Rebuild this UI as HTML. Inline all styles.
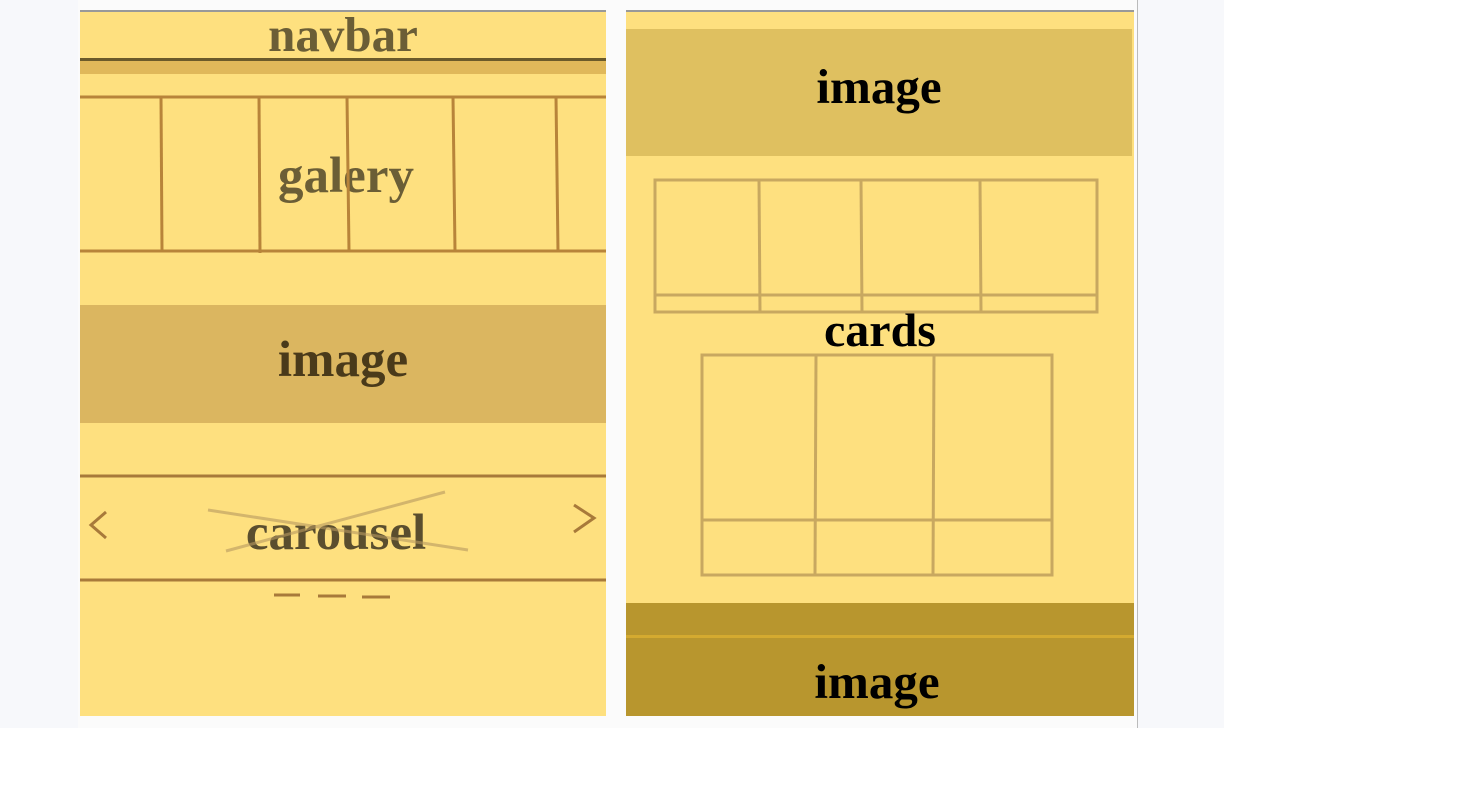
<!DOCTYPE html>
<html><head><meta charset="utf-8"><style>
body{margin:0;width:1462px;height:786px;background:#fff;position:relative;overflow:hidden;font-family:"Liberation Serif",serif;}
div{position:absolute;box-sizing:border-box}
.t{font-weight:bold;text-align:center;width:100%;line-height:1}
</style></head><body>
<div style="left:0;top:0;width:1224px;height:728px;background:#f7f8fb"></div>
<div style="left:78px;top:0;width:1060px;height:728px;background:#fbfbfb;border-right:1px solid #bbb"></div>
<div style="left:80px;top:10px;width:526px;height:706px;background:#fee07f;border-top:2px solid #999">
  <div class="t" style="top:-2px;font-size:49px;color:#6b5e36">navbar</div>
  <div style="left:0;top:46px;width:526px;height:3px;background:#6b5a2a"></div>
  <div style="left:0;top:49px;width:526px;height:13px;background:#e0b85a"></div>
  <div class="t" style="top:139px;font-size:51px;color:#6b5e36;left:3px">galery</div>
  <div class="t" style="left:0;top:293px;height:118px;background:#dbb660;font-size:51px;color:#4a3a1a;padding-top:30px">image</div>
  <div class="t" style="left:-7px;top:496px;font-size:51px;color:#5a4e2e">carousel</div>
</div>
<svg style="position:absolute;left:0;top:0" width="1462" height="786">
  <g stroke="#b8843a" stroke-width="3" fill="none">
    <line x1="80" y1="97" x2="606" y2="97"/><line x1="80" y1="251" x2="606" y2="251"/>
    <line x1="161" y1="97" x2="162" y2="251"/><line x1="259" y1="97" x2="260" y2="253"/>
    <line x1="347" y1="97" x2="349" y2="251"/><line x1="453" y1="97" x2="455" y2="251"/>
    <line x1="556" y1="97" x2="558" y2="251"/>
  </g>
  <g stroke="#a87a3a" stroke-width="3" fill="none">
    <line x1="80" y1="476" x2="606" y2="476"/><line x1="80" y1="580" x2="606" y2="580"/>
    <polyline points="106,512 91,525 106,538"/><polyline points="574,505 594,518 574,532"/>
    <line x1="274" y1="595" x2="300" y2="595"/><line x1="318" y1="596" x2="346" y2="596"/><line x1="362" y1="597" x2="390" y2="597"/>
  </g>
  <g stroke="#b89a60" stroke-width="3" opacity="0.6"><line x1="208" y1="510" x2="468" y2="550"/><line x1="226" y1="551" x2="445" y2="492"/></g>
</svg>
<div style="left:626px;top:10px;width:508px;height:706px;background:#fee07f;border-top:2px solid #999;border-bottom:2px solid #999">
  <div class="t" style="left:0;top:17px;width:506px;height:127px;background:#dfc060;font-size:49px;color:#000;padding-top:33px">image</div>
  <div class="t" style="top:295px;font-size:48px;color:#000;left:0px">cards</div>
  <div style="left:0;top:591px;width:508px;height:113px;background:#b8962e">
    <div style="left:0;top:32px;width:508px;height:3px;background:#d4aa30"></div>
    <div class="t" style="top:54px;font-size:49px;color:#000;left:-3px">image</div>
  </div>
</div>
<svg style="position:absolute;left:0;top:0" width="1462" height="786">
  <g stroke="#c8a860" stroke-width="3" fill="none">
    <rect x="655" y="180" width="442" height="132"/>
    <line x1="655" y1="295" x2="1097" y2="295"/>
    <line x1="759" y1="180" x2="760" y2="312"/><line x1="861" y1="180" x2="862" y2="312"/><line x1="980" y1="180" x2="981" y2="312"/>
    <rect x="702" y="355" width="350" height="220"/>
    <line x1="702" y1="520" x2="1052" y2="520"/>
    <line x1="816" y1="355" x2="815" y2="575"/><line x1="934" y1="355" x2="933" y2="575"/>
  </g>
</svg>
</body></html>
